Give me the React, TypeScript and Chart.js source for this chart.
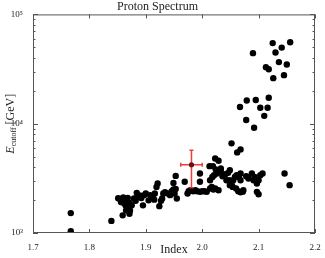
import React, { useEffect, useRef } from "react";
import { Chart, registerables } from "chart.js";

Chart.register(...registerables);

const indexValues = [
  1.767, 1.767, 1.839,
  1.851, 1.855, 1.86, 1.865, 1.868, 1.856, 1.861, 1.866, 1.871, 1.864, 1.869, 1.865, 1.872, 1.859, 1.871, 1.875,
  1.879, 1.884, 1.885, 1.889, 1.882, 1.892, 1.897, 1.9, 1.895, 1.905, 1.908, 1.912, 1.915, 1.916, 1.921, 1.919,
  1.924, 1.927, 1.929, 1.931, 1.934, 1.939, 1.943, 1.946, 1.949, 1.951, 1.953, 1.955, 1.949, 1.953, 1.969, 1.974,
  1.976, 1.979, 1.984, 1.988, 1.991, 1.996, 2.0, 2.004, 2.008, 1.996, 1.996, 2.014, 2.017, 2.02, 2.023, 2.029,
  2.014, 2.018, 2.021, 2.026, 2.03, 2.033, 2.036, 2.041, 2.046, 2.049, 2.048, 2.052, 2.055, 2.058, 2.061, 2.065,
  2.068, 2.043, 2.049, 2.054, 2.06, 2.064, 2.068, 2.072, 2.078, 2.082, 2.088, 2.091, 2.093, 2.097, 2.1, 2.103,
  2.107, 2.097, 2.1, 2.146, 2.155, 2.068, 2.073,
  2.023, 2.029, 2.013, 2.019, 2.033, 2.024, 2.052, 2.062, 2.068,
  2.067, 2.079, 2.095, 2.103, 2.116, 2.118, 2.11, 2.078, 2.092, 2.09, 2.125, 2.13, 2.141, 2.156, 2.136, 2.113,
  2.118, 2.15, 2.126, 2.145,
];

const cutoffValues = [
  1520, 1040, 1290,
  2080, 2020, 2110, 2040, 2090, 1920, 1880, 1950, 1880, 1790, 1670, 1610, 1610, 1450, 1500, 1790,
  2070, 2330, 2140, 2200, 1970, 2090, 2220, 2300, 1790, 1990, 2220, 2140, 2020, 2300, 2840, 2640,
  1760, 1970, 2070, 2300, 2360, 2300, 2220, 2410, 2500, 2300, 2530, 2070, 2870, 3330, 2940, 2300,
  2410, 2460, 2410, 2460, 2410, 2380, 2410, 2410, 2380, 3500, 2940, 2550, 2640, 2500, 2550, 2460,
  3040, 3260, 3380, 3500, 3630, 3760, 3310, 3450, 3550, 3760, 3040, 2840, 3040, 3260, 3380, 3260,
  3500, 3040, 2740, 2640, 2550, 2410, 2360, 2390, 3310, 3150, 3500, 3040, 3260, 2840, 3040, 3380,
  3500, 2380, 2260, 3500, 2740, 3040, 2460,
  4810, 4580, 4090, 4090, 3890, 3810, 6610, 5460, 5820,
  14200, 16300, 16500, 14000, 14000, 17300, 11800, 10800, 9190, 44200, 54600, 44800, 49700, 55700, 36600, 32900,
  31500, 34800, 26100, 27800,
];

const protonIndex = [1.981];
const protonCutoff = [4210];
const protonIndexErr = [[1.962, 2.0]];
const protonCutoffErr = [[2590, 5730]];

const xTickValues = [1.7, 1.8, 1.9, 2.0, 2.1, 2.2];
const yTickValues = [1000, 10000, 100000];
const yTickLabels = ["10³", "10⁴", "10⁵"];

const SERIF = "'Liberation Serif', 'DejaVu Serif', serif";

const framePlugin = {
  id: "frameTicks",
  afterDatasetsDraw(chart: any) {
    const { ctx, chartArea, scales } = chart;
    const { left, right, top, bottom } = chartArea;
    const xs = scales.x;
    const ys = scales.y;
    ctx.save();
    // error bars
    ctx.strokeStyle = "rgba(235,40,40,0.9)";
    ctx.lineWidth = 1.5;
    for (let i = 0; i < protonIndex.length; i++) {
      const cx = xs.getPixelForValue(protonIndex[i]);
      const cy = ys.getPixelForValue(protonCutoff[i]);
      const x0 = xs.getPixelForValue(protonIndexErr[i][0]);
      const x1 = xs.getPixelForValue(protonIndexErr[i][1]);
      const y0 = ys.getPixelForValue(protonCutoffErr[i][0]);
      const y1 = ys.getPixelForValue(protonCutoffErr[i][1]);
      ctx.beginPath();
      ctx.moveTo(x0, cy);
      ctx.lineTo(x1, cy);
      ctx.moveTo(cx, y0);
      ctx.lineTo(cx, y1);
      ctx.moveTo(x0, cy - 2);
      ctx.lineTo(x0, cy + 2);
      ctx.moveTo(x1, cy - 2);
      ctx.lineTo(x1, cy + 2);
      ctx.moveTo(cx - 2, y0);
      ctx.lineTo(cx + 2, y0);
      ctx.moveTo(cx - 2, y1);
      ctx.lineTo(cx + 2, y1);
      ctx.stroke();
      ctx.fillStyle = "#6a1010";
      ctx.beginPath();
      ctx.arc(cx, cy, 2.6, 0, Math.PI * 2);
      ctx.fill();
    }
    // frame
    ctx.strokeStyle = "#555";
    ctx.lineWidth = 1;
    ctx.strokeRect(left + 0.5, top + 0.5, right - left - 1, bottom - top - 1);
    // x ticks
    ctx.beginPath();
    for (const v of xTickValues) {
      const px = Math.round(xs.getPixelForValue(v)) + 0.5;
      ctx.moveTo(px, bottom);
      ctx.lineTo(px, bottom - 4);
      ctx.moveTo(px, top);
      ctx.lineTo(px, top + 4);
    }
    // y ticks
    for (let dec = 1000; dec <= 100000; dec *= 10) {
      for (let m = 1; m <= 9; m++) {
        const v = dec * m;
        if (v > 100000) break;
        const len = m === 1 ? 5 : 2.5;
        const py = Math.round(ys.getPixelForValue(v)) + 0.5;
        ctx.moveTo(left, py);
        ctx.lineTo(left + len, py);
        ctx.moveTo(right, py);
        ctx.lineTo(right - len, py);
      }
    }
    ctx.stroke();
    // y axis title with subscript
    const cyMid = (top + bottom) / 2;
    ctx.translate(11, cyMid);
    ctx.rotate(-Math.PI / 2);
    ctx.fillStyle = "#222";
    ctx.textBaseline = "middle";
    const partE = "E";
    const partSub = "cutoff";
    const partRest = " [GeV]";
    ctx.font = `italic 12px ${SERIF}`;
    const wE = ctx.measureText(partE).width;
    ctx.font = `8px ${SERIF}`;
    const wSub = ctx.measureText(partSub).width;
    ctx.font = `12px ${SERIF}`;
    const wRest = ctx.measureText(partRest).width;
    let xpos = -(wE + wSub + wRest) / 2;
    ctx.textAlign = "left";
    ctx.font = `italic 12px ${SERIF}`;
    ctx.fillText(partE, xpos, 0);
    xpos += wE;
    ctx.font = `8px ${SERIF}`;
    ctx.fillText(partSub, xpos, 3);
    xpos += wSub;
    ctx.font = `12px ${SERIF}`;
    ctx.fillText(partRest, xpos, 0);
    ctx.restore();
  },
};

export default function App() {
  const canvasRef = useRef<HTMLCanvasElement | null>(null);

  useEffect(() => {
    if (!canvasRef.current) return;
    const points = indexValues.map((x, i) => ({ x, y: cutoffValues[i] }));
    const chart = new Chart(canvasRef.current, {
      type: "scatter",
      data: {
        datasets: [
          {
            label: "Sources",
            data: points,
            backgroundColor: "#000",
            borderColor: "#000",
            pointRadius: 3.2,
            pointBorderWidth: 0,
          },
        ],
      },
      options: {
        animation: false,
        responsive: true,
        maintainAspectRatio: false,
        layout: { padding: { top: 0, right: 10, left: 0, bottom: 0 } },
        plugins: {
          legend: { display: false },
          tooltip: { enabled: false },
          title: {
            display: true,
            text: "Proton Spectrum",
            color: "#222",
            font: { family: SERIF, size: 12, weight: "normal", lineHeight: 1.2 },
            padding: { top: 0, bottom: 0 },
          },
        },
        scales: {
          x: {
            type: "linear",
            min: 1.7,
            max: 2.2,
            grid: { display: false },
            border: { display: false },
            afterBuildTicks: (scale: any) => {
              scale.ticks = xTickValues.map((v) => ({ value: v }));
            },
            afterFit: (scale: any) => {
              scale.height = 25;
            },
            ticks: {
              color: "#222",
              padding: 1,
              maxRotation: 0,
              font: { family: SERIF, size: 9 },
              callback: (v: any) => Number(v).toFixed(1),
            },
            title: {
              display: true,
              text: "Index",
              color: "#222",
              font: { family: SERIF, size: 12, lineHeight: 1.2 },
              padding: { top: 0, bottom: 1 },
            },
          },
          y: {
            type: "logarithmic",
            min: 1000,
            max: 100000,
            grid: { display: false },
            border: { display: false },
            afterBuildTicks: (scale: any) => {
              scale.ticks = yTickValues.map((v) => ({ value: v }));
            },
            afterFit: (scale: any) => {
              scale.width = 33;
            },
            ticks: {
              color: "#222",
              padding: 2,
              font: { family: SERIF, size: 9 },
              callback: (v: any) => {
                const i = yTickValues.indexOf(Number(v));
                return i >= 0 ? yTickLabels[i] : "";
              },
            },
          },
        },
      },
      plugins: [framePlugin],
    });
    return () => chart.destroy();
  }, []);

  return (
    <div style={{ position: "fixed", left: 0, top: 0, width: 325, height: 258, background: "#fff" }}>
      <canvas ref={canvasRef} />
    </div>
  );
}
